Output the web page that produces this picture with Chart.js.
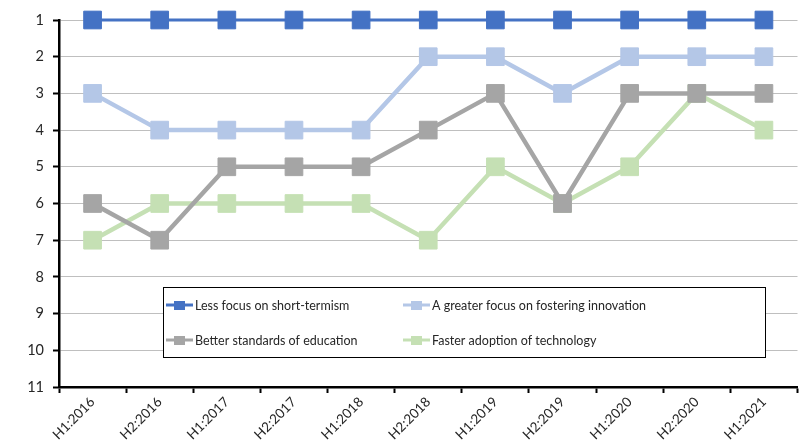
<!DOCTYPE html>
<html>
<head>
<meta charset="utf-8">
<script src="https://cdn.jsdelivr.net/npm/chart.js@4/dist/chart.umd.min.js"></script>
<style>
  html, body { margin: 0; padding: 0; background: #fff; overflow: hidden; }
  /* a bit wider than the window: Chart.js keeps a right gap for the rotated labels */
  #wrap { width: 811px; height: 447px; position: relative; }
  canvas { display: block; }
</style>
</head>
<body>
<div id="wrap"><canvas id="c"></canvas></div>
<script>
const periods = ['H1:2016', 'H2:2016', 'H1:2017', 'H2:2017', 'H1:2018', 'H2:2018',
  'H1:2019', 'H2:2019', 'H1:2020', 'H2:2020', 'H1:2021'];

const shortTermism = [1, 1, 1, 1, 1, 1, 1, 1, 1, 1, 1];
const innovation   = [3, 4, 4, 4, 4, 2, 2, 3, 2, 2, 2];
const education    = [6, 7, 5, 5, 5, 4, 3, 6, 3, 3, 3];
const technology   = [7, 6, 6, 6, 6, 7, 5, 6, 5, 3, 4];

const rankTicks = [1, 2, 3, 4, 5, 6, 7, 8, 9, 10, 11];

const FONT = "Lato, 'Liberation Sans', Arial, sans-serif";

function series(label, data, color, width) {
  return {
    label: label,
    data: data,
    borderColor: color,
    backgroundColor: color,
    borderWidth: width,
    pointStyle: 'rect',
    pointRadius: 12.5,
    pointHoverRadius: 12.5,
    pointBorderWidth: 1,
    pointBorderColor: color,
    tension: 0,
    clip: false
  };
}

// legend box drawn inside the plot, like the original
const boxLegend = {
  id: 'boxLegend',
  afterDraw(chart) {
    const ctx = chart.ctx;
    const x0 = 163, y0 = 287, w = 602, h = 70;
    ctx.save();
    ctx.fillStyle = '#fff';
    ctx.fillRect(x0, y0, w, h);
    ctx.strokeStyle = '#000';
    ctx.lineWidth = 1;
    ctx.strokeRect(x0 + 0.5, y0 + 0.5, w, h);
    const cols = [166, 403];
    const rows = [305, 340];
    ctx.font = '12.5px ' + FONT;
    ctx.textBaseline = 'middle';
    chart.data.datasets.forEach((ds, i) => {
      const lx = cols[i % 2];
      const ly = rows[Math.floor(i / 2)];
      ctx.strokeStyle = ds.borderColor;
      ctx.lineWidth = 3;
      ctx.beginPath();
      ctx.moveTo(lx, ly);
      ctx.lineTo(lx + 27, ly);
      ctx.stroke();
      ctx.fillStyle = ds.borderColor;
      ctx.fillRect(lx + 8, ly - 4, 11, 9);
      ctx.fillStyle = '#262626';
      ctx.fillText(ds.label, lx + 29, ly + 0.5);
    });
    ctx.restore();
  }
};

new Chart(document.getElementById('c'), {
  type: 'line',
  data: {
    labels: periods,
    datasets: [
      series('Less focus on short-termism', shortTermism, '#4472C4', 3),
      series('A greater focus on fostering innovation', innovation, '#B4C7E7', 4.5),
      series('Better standards of education', education, '#A5A5A5', 4.5),
      series('Faster adoption of technology', technology, '#C5E0B4', 4.5)
    ]
  },
  options: {
    responsive: true,
    maintainAspectRatio: false,
    animation: false,
    layout: { padding: { top: 20, right: 3, left: 0, bottom: 0 } },
    plugins: {
      legend: { display: false },
      tooltip: { enabled: false }
    },
    scales: {
      x: {
        offset: true,
        grid: {
          offset: true,
          drawOnChartArea: false,
          drawTicks: true,
          tickLength: 6,
          tickColor: '#000',
          tickWidth: 2
        },
        border: { color: '#000', width: 2.5 },
        ticks: {
          maxRotation: 45,
          minRotation: 45,
          color: '#262626',
          font: { family: FONT, size: 13.5 },
          padding: 1
        },
        afterFit(scale) { scale.height = 60; }
      },
      y: {
        reverse: true,
        min: 1,
        max: 11,
        afterBuildTicks(scale) {
          scale.ticks = rankTicks.map(v => ({ value: v }));
        },
        grid: {
          color: '#BFBFBF',
          lineWidth: 1,
          drawTicks: true,
          tickLength: 6,
          tickColor: '#000',
          tickWidth: 2
        },
        border: { color: '#000', width: 2.5 },
        ticks: {
          color: '#262626',
          font: { family: FONT, size: 14.5 },
          padding: 9
        },
        afterFit(scale) { scale.width = 59; }
      }
    }
  },
  plugins: [boxLegend]
});
</script>
</body>
</html>
